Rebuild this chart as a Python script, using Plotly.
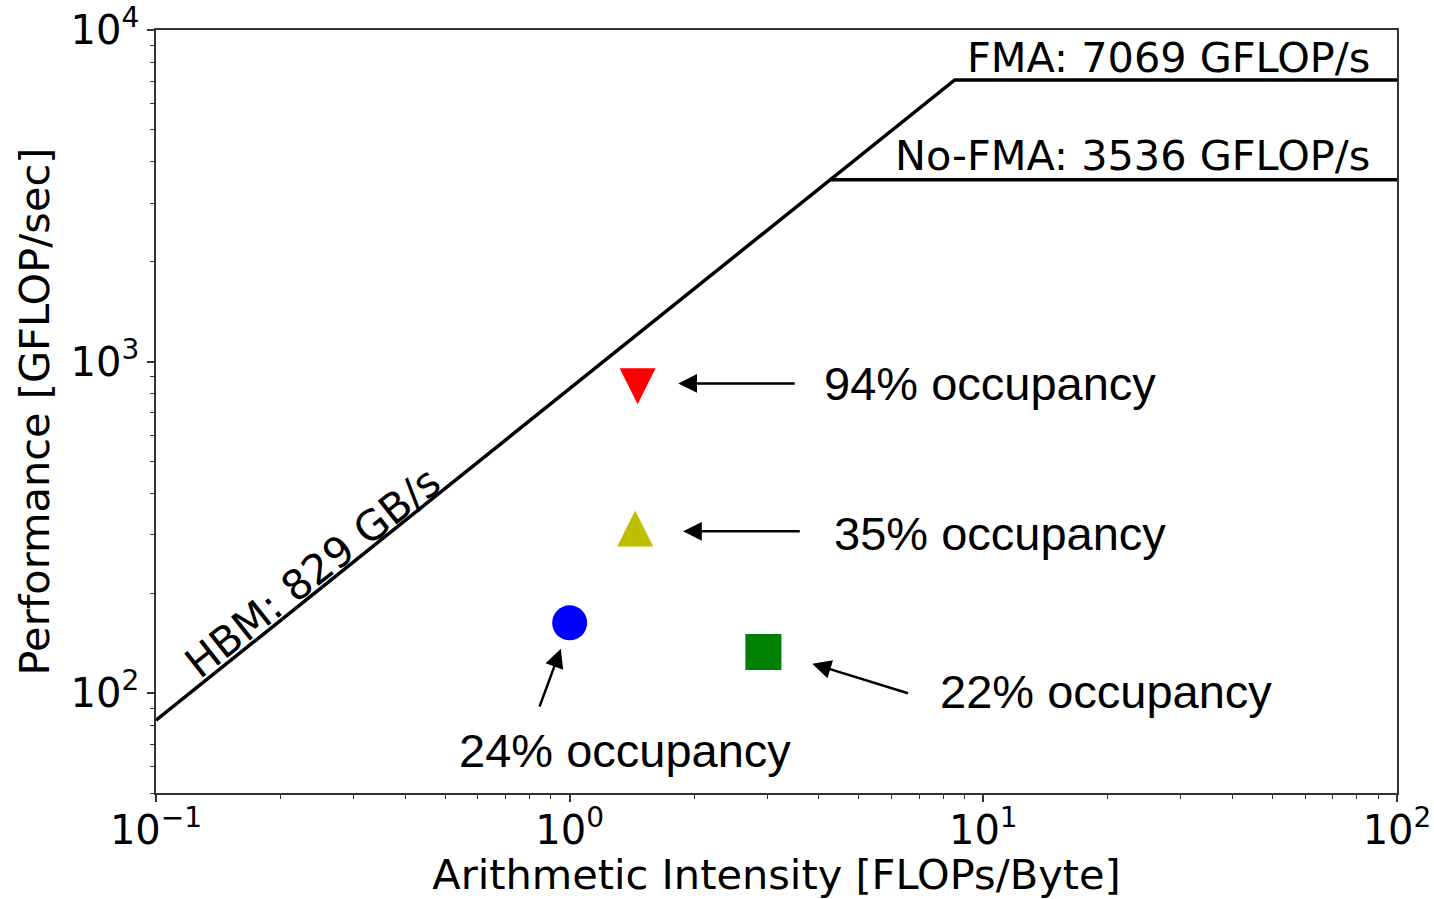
import numpy as np
import plotly.graph_objects as go

# ---------------- data ----------------
bandwidth_gbs = 829.0
peak_fma = 7069.0
peak_nofma = 3536.0
x_min, x_max = 0.1, 100.0

point_ai = [1.0, 1.46, 1.44, 2.94]
point_perf = [163.0, 842.0, 314.0, 133.0]
point_labels = ["24% occupancy", "94% occupancy", "35% occupancy", "22% occupancy"]

x_tickvals = [0.1, 1, 10, 100]
x_ticktext = ["10<sup>\u22121</sup>", "10<sup>0</sup>", "10<sup>1</sup>", "10<sup>2</sup>"]
y_tickvals = [100, 1000, 10000]
y_ticktext = ["10<sup>2</sup>", "10<sup>3</sup>", "10<sup>4</sup>"]

roof_labels = ["FMA: 7069 GFLOP/s", "No-FMA: 3536 GFLOP/s"]
bw_label = "HBM: 829 GB/s"

# ---------------- styles ----------------
# arrow-down markers (equal width/height) shifted by standoff so they sit centred on the point
point_symbols = ["circle", "arrow-down", "arrow-down", "square"]
point_angles = [0, 0, 180, 0]
point_standoffs = [0, 18, 18, 0]
point_colors = ["#0000ff", "#ff0000", "#bfbf00", "#008000"]
point_sizes = [35, 36, 36, 36]

DEJAVU = "DejaVu Sans"
ARIAL = "Liberation Sans, Arial"

fig = go.Figure()

ridge_fma = peak_fma / bandwidth_gbs
ridge_nofma = peak_nofma / bandwidth_gbs

fig.add_trace(go.Scatter(
    x=[x_min, ridge_fma, x_max],
    y=[bandwidth_gbs * x_min, peak_fma, peak_fma],
    mode="lines", line=dict(color="black", width=3.5), showlegend=False, hoverinfo="skip"))
fig.add_trace(go.Scatter(
    x=[ridge_nofma, x_max],
    y=[peak_nofma, peak_nofma],
    mode="lines", line=dict(color="black", width=3.5), showlegend=False, hoverinfo="skip"))

for xi, yi, sym, ang, so, col, sz in zip(point_ai, point_perf, point_symbols, point_angles,
                                          point_standoffs, point_colors, point_sizes):
    fig.add_trace(go.Scatter(
        x=[xi], y=[yi], mode="markers",
        marker=dict(symbol=sym, angle=ang, standoff=so, color=col, size=sz, line=dict(width=0)),
        showlegend=False))

L = np.log10

annotations = []
arrow_specs = [
    # 24%
    dict(tip=(0.952, 136.1), tail=(0.843, 90.1), text=(0.533, 67.0)),
    # 94%
    dict(tip=(1.83, 859.0), tail=(3.53, 859.0), text=(4.07, 856.0)),
    # 35%
    dict(tip=(1.88, 307.6), tail=(3.63, 307.6), text=(4.30, 303.0)),
    # 22%
    dict(tip=(3.86, 122.7), tail=(6.63, 99.6), text=(7.76, 101.5)),
]
for spec, lab in zip(arrow_specs, point_labels):
    annotations.append(dict(
        x=L(spec["tip"][0]), y=L(spec["tip"][1]), xref="x", yref="y",
        ax=L(spec["tail"][0]), ay=L(spec["tail"][1]), axref="x", ayref="y",
        text="", showarrow=True, arrowhead=2, arrowsize=1.5, arrowwidth=2.5,
        arrowcolor="black", standoff=0, startstandoff=0))
    annotations.append(dict(
        x=L(spec["text"][0]), y=L(spec["text"][1]), xref="x", yref="y",
        text=lab, showarrow=False, xanchor="left", yanchor="middle",
        font=dict(family=ARIAL, size=47, color="black")))

annotations.append(dict(x=L(87.0), y=L(8230), xref="x", yref="y", text=roof_labels[0],
                        showarrow=False, xanchor="right", yanchor="middle",
                        font=dict(family=DEJAVU, size=41.4, color="black")))
annotations.append(dict(x=L(87.0), y=L(4166), xref="x", yref="y", text=roof_labels[1],
                        showarrow=False, xanchor="right", yanchor="middle",
                        font=dict(family=DEJAVU, size=41.4, color="black")))
annotations.append(dict(x=L(0.239), y=L(229.7), xref="x", yref="y", text=bw_label,
                        showarrow=False, xanchor="center", yanchor="middle", textangle=-38.3,
                        font=dict(family=DEJAVU, size=41.4, color="black")))

x_minor = [k * 10.0 ** e for e in range(-1, 2) for k in range(2, 10)]
y_minor = [k * 10.0 ** e for e in range(1, 4) for k in range(2, 10) if k * 10.0 ** e >= 50]

axis_common = dict(
    showgrid=False, zeroline=False, showline=True, mirror=True, automargin=False,
    linecolor="#333333", linewidth=1.5,
    ticks="outside", ticklen=7, tickwidth=1.5, tickcolor="#333333",
    tickfont=dict(family=DEJAVU, size=40, color="black"),
)

fig.update_layout(
    width=1434, height=899, autosize=False,
    margin=dict(l=156, r=37, t=30, b=106, pad=0),
    paper_bgcolor="white", plot_bgcolor="white",
    annotations=annotations,
    xaxis=dict(
        type="log", range=[L(x_min), L(x_max)],
        tickmode="array", tickvals=x_tickvals, ticktext=x_ticktext,
        ticklabelstandoff=-6,
        minor=dict(tickmode="array", tickvals=x_minor, ticks="outside", ticklen=4,
                   tickwidth=1, tickcolor="#333333", showgrid=False),
        title=dict(text="Arithmetic Intensity [FLOPs/Byte]", standoff=10,
                   font=dict(family=DEJAVU, size=41.5, color="black")),
        **axis_common),
    yaxis=dict(
        type="log", range=[L(50), L(10000)],
        tickmode="array", tickvals=y_tickvals, ticktext=y_ticktext,
        minor=dict(tickmode="array", tickvals=y_minor, ticks="outside", ticklen=4,
                   tickwidth=1, tickcolor="#333333", showgrid=False),
        title=dict(text="Performance [GFLOP/sec]", standoff=8,
                   font=dict(family=DEJAVU, size=41.5, color="black")),
        **axis_common),
)

fig.write_html("out.html")
